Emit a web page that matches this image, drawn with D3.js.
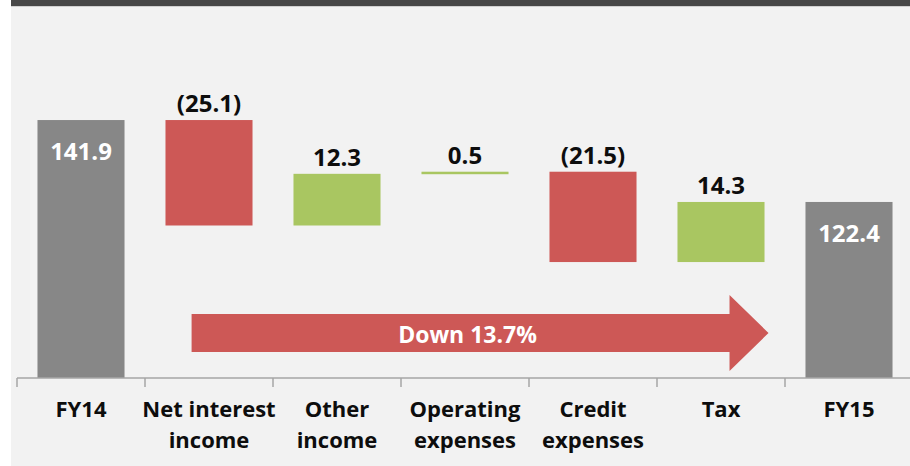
<!DOCTYPE html>
<html>
<head>
<meta charset="utf-8">
<script src="https://cdnjs.cloudflare.com/ajax/libs/d3/7.8.5/d3.min.js"></script>
<style>
  html, body { margin: 0; padding: 0; background: #fff; }
  svg { display: block; }
  text { font-family: "Open Sans", sans-serif; font-weight: 700; }
</style>
</head>
<body>
<svg id="chart" width="910" height="466"></svg>
<script>
// waterfall data, FY14 -> FY15
const categories = ['FY14', 'Net interest income', 'Other income', 'Operating expenses', 'Credit expenses', 'Tax', 'FY15'];
const categoryLines = [['FY14'], ['Net interest', 'income'], ['Other', 'income'], ['Operating', 'expenses'], ['Credit', 'expenses'], ['Tax'], ['FY15']];
const barKinds = ['total', 'delta', 'delta', 'delta', 'delta', 'delta', 'total'];
const values = [141.9, -25.1, 12.3, 0.5, -21.5, 14.3, 122.4];
const valueLabels = ['141.9', '(25.1)', '12.3', '0.5', '(21.5)', '14.3', '122.4'];
const arrowLabel = 'Down 13.7%';

const colors = { total: '#878787', up: '#a9c661', down: '#cd5856' };

const svg = d3.select('#chart');
const W = 910, H = 466;

// page frame: white strip, grey panel, dark title band
svg.append('rect').attr('width', W).attr('height', H).attr('fill', '#ffffff');
svg.append('rect').attr('x', 11).attr('y', 0).attr('width', W - 11).attr('height', H).attr('fill', '#f2f2f2');
svg.append('rect').attr('x', 11).attr('y', 0).attr('width', W - 11).attr('height', 6).attr('fill', '#474747');
svg.append('rect').attr('x', 11).attr('y', 6).attr('width', W - 11).attr('height', 1).attr('fill', '#d0d0d0');

const axisY = 378;
const x = d3.scaleBand()
    .domain(categories)
    .range([17, 913])
    .paddingInner(0.32)
    .paddingOuter(0.16);

// axis doesn't start at zero in the original
const y = d3.scaleLinear()
    .domain([80.5, 160])
    .range([axisY, 44]);

// running totals
let running = 0;
const bars = categories.map((c, i) => {
    let start, end;
    if (barKinds[i] === 'total') {
        start = y.domain()[0];
        end = values[i];
        running = values[i];
    } else {
        start = running;
        end = running + values[i];
        running = end;
    }
    return { cat: c, kind: barKinds[i], start, end, value: values[i], label: valueLabels[i] };
});

const g = svg.append('g');

g.selectAll('rect.bar')
    .data(bars)
    .enter().append('rect')
    .attr('class', 'bar')
    .attr('x', d => x(d.cat))
    .attr('width', x.bandwidth())
    .attr('y', d => y(Math.max(d.start, d.end)))
    .attr('height', d => Math.max(2.5, Math.abs(y(d.start) - y(d.end))))
    .attr('fill', d => d.kind === 'total' ? colors.total : (d.value < 0 ? colors.down : colors.up));

// value labels: inside for totals, above for deltas
g.selectAll('text.val')
    .data(bars)
    .enter().append('text')
    .attr('class', 'val')
    .attr('x', d => x(d.cat) + x.bandwidth() / 2)
    .attr('y', d => {
        const top = y(Math.max(d.start, d.end));
        return d.kind === 'total' ? top + 40 : top - 8;
    })
    .attr('text-anchor', 'middle')
    .style('font-size', '24px')
    .attr('fill', d => d.kind === 'total' ? '#ffffff' : '#0d0d0d')
    .text(d => d.label);

// axis line + ticks at category boundaries
const step = x.step();
const halfGap = x.paddingInner() * step / 2;
const tickXs = categories.map(c => x(c) - halfGap);

svg.append('line')
    .attr('x1', tickXs[0]).attr('x2', W)
    .attr('y1', axisY).attr('y2', axisY)
    .attr('stroke', '#a6a6a6').attr('stroke-width', 1.5);

svg.selectAll('line.tick')
    .data(tickXs)
    .enter().append('line')
    .attr('class', 'tick')
    .attr('x1', d => d).attr('x2', d => d)
    .attr('y1', axisY).attr('y2', axisY + 9)
    .attr('stroke', '#a6a6a6').attr('stroke-width', 1.5);

// category labels
const catG = svg.selectAll('g.cat')
    .data(categories)
    .enter().append('g')
    .attr('class', 'cat')
    .attr('transform', c => `translate(${x(c) + x.bandwidth() / 2},0)`);

catG.each(function (c, i) {
    const t = d3.select(this).append('text')
        .attr('text-anchor', 'middle')
        .style('font-size', '22px')
        .attr('fill', '#0d0d0d');
    categoryLines[i].forEach((line, j) => {
        t.append('tspan')
            .attr('x', 0)
            .attr('y', 417 + j * 31)
            .text(line);
    });
});

// "Down" arrow across the deltas
const arrowStart = x(categories[1]) + x.bandwidth() * 0.3;
const arrowTip = x(categories[5]) + x.bandwidth() + 4;
const headBase = arrowTip - 39;
const arrowMid = axisY - 45;
const shaftH = 19;
const headH = 38;

svg.append('path')
    .attr('d', d3.line()([
        [arrowStart, arrowMid - shaftH],
        [headBase, arrowMid - shaftH],
        [headBase, arrowMid - headH],
        [arrowTip, arrowMid],
        [headBase, arrowMid + headH],
        [headBase, arrowMid + shaftH],
        [arrowStart, arrowMid + shaftH]
    ]) + 'Z')
    .attr('fill', colors.down);

svg.append('text')
    .attr('x', (arrowStart + headBase) / 2 + 7)
    .attr('y', arrowMid + 10)
    .attr('text-anchor', 'middle')
    .style('font-size', '23px')
    .attr('fill', '#ffffff')
    .text(arrowLabel);
</script>
</body>
</html>
